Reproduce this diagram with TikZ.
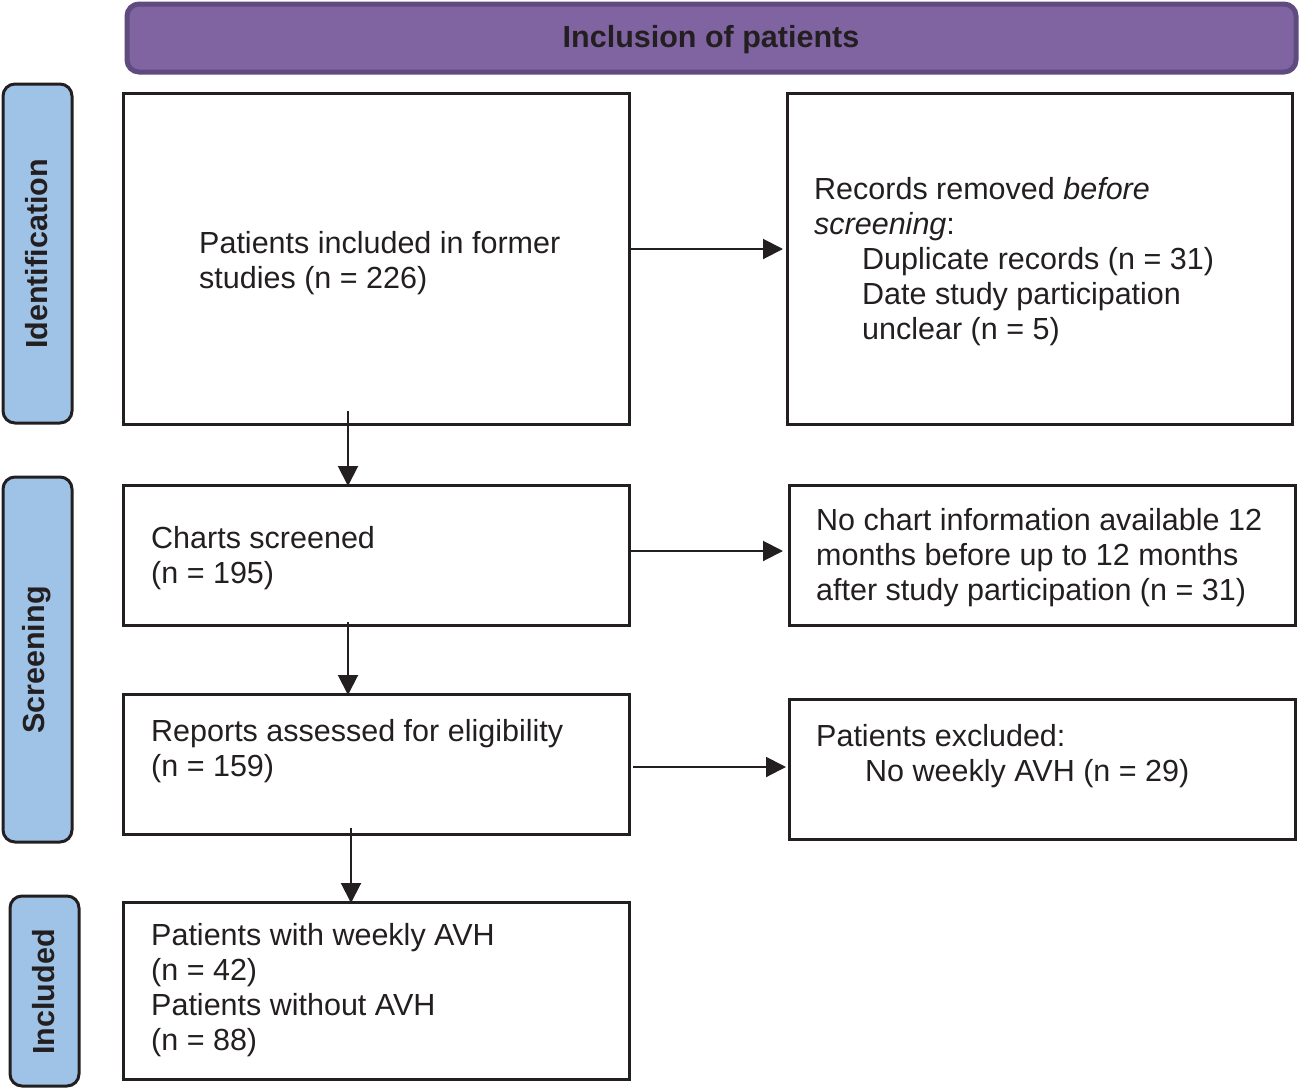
\documentclass[tikz,border=0pt]{standalone}
\usepackage{fontspec}
\setmainfont{Liberation Sans}
\usetikzlibrary{arrows.meta,calc}
\definecolor{hdrfill}{HTML}{8064A2}
\definecolor{hdrline}{HTML}{5F4B80}
\definecolor{sidefill}{HTML}{9FC3E6}
\definecolor{ink}{HTML}{231F20}
\begin{document}
\begin{tikzpicture}[x=1pt,y=-1pt,
  txt/.style={font=\fontsize{30.5}{35}\selectfont, text=ink, align=left, inner sep=0pt, anchor=west},
  flowbox/.style={draw=ink, line width=3pt, fill=white},
  sidebox/.style={draw=ink, line width=3pt, fill=sidefill, rounded corners=12pt},
  sidetxt/.style={font=\fontsize{30.5}{35}\selectfont\bfseries, text=ink, rotate=90, inner sep=0pt},
  arr/.style={draw=ink, line width=2pt, -{Triangle[length=20pt,width=20pt]}}
]
\useasboundingbox (0,0) rectangle (1301,1090);
\fill[white] (0,0) rectangle (1301,1090);

% header
\draw[fill=hdrfill, draw=hdrline, line width=5pt, rounded corners=12pt] (127,4) rectangle (1296,72);
\node[font=\fontsize{30.5}{35}\selectfont\bfseries, text=ink] (hdr) at (711,40) {Inclusion of patients};

% side labels
\draw[sidebox] (3,84) rectangle (72,423);
\node[sidetxt] (sid) at (37,254) {Identification};
\draw[sidebox] (3,477) rectangle (72,842);
\node[sidetxt] (sscr) at (37,660) {Screening};
\draw[sidebox] (10,896) rectangle (79,1086);
\node[sidetxt] (sinc) at (44,992) {Included};

% boxes
\path[flowbox] (123,93) rectangle (629,424);
\path[flowbox] (787,93) rectangle (1292,424);
\path[flowbox] (123,485) rectangle (629,625);
\path[flowbox] (789,485) rectangle (1295,625);
\path[flowbox] (123,694) rectangle (629,834);
\path[flowbox] (789,699) rectangle (1295,839);
\path[flowbox] (123,902) rectangle (629,1079);

% texts
\node[txt] (tA) at (199,263) {Patients included in former\\studies (n = 226)};
\node[txt] (tB) at (814,262) {Records removed \textit{before}\\\textit{screening}:\\\hspace*{48pt}Duplicate records (n = 31)\\\hspace*{48pt}Date study participation\\\hspace*{48pt}unclear (n = 5)};
\node[txt] (tC) at (151,558) {Charts screened\\(n = 195)};
\node[txt] (tD) at (816,558) {No chart information available 12\\months before up to 12 months\\after study participation (n = 31)};
\node[txt] (tE) at (151,751) {Reports assessed for eligibility\\(n = 159)};
\node[txt] (tF) at (816,756) {Patients excluded:\\\hspace*{49pt}No weekly AVH (n = 29)};
\node[txt] (tG) at (151,990) {Patients with weekly AVH\\(n = 42)\\Patients without AVH\\(n = 88)};

% connector end points
\coordinate (a1) at (630,249); \coordinate (b1) at (783,249);
\coordinate (c1) at (630,551); \coordinate (d1) at (783,551);
\coordinate (e1) at (633,767); \coordinate (f1) at (786,767);
\coordinate (a2) at (348,411); \coordinate (c2) at (348,486);
\coordinate (c3) at (348,622); \coordinate (e2) at (348,695);
\coordinate (e3) at (351,828); \coordinate (g1) at (351,903);

\draw[arr] (a1) -- (b1);
\draw[arr] (c1) -- (d1);
\draw[arr] (e1) -- (f1);
\draw[arr] (a2) -- (c2);
\draw[arr] (c3) -- (e2);
\draw[arr] (e3) -- (g1);
\end{tikzpicture}
\end{document}
